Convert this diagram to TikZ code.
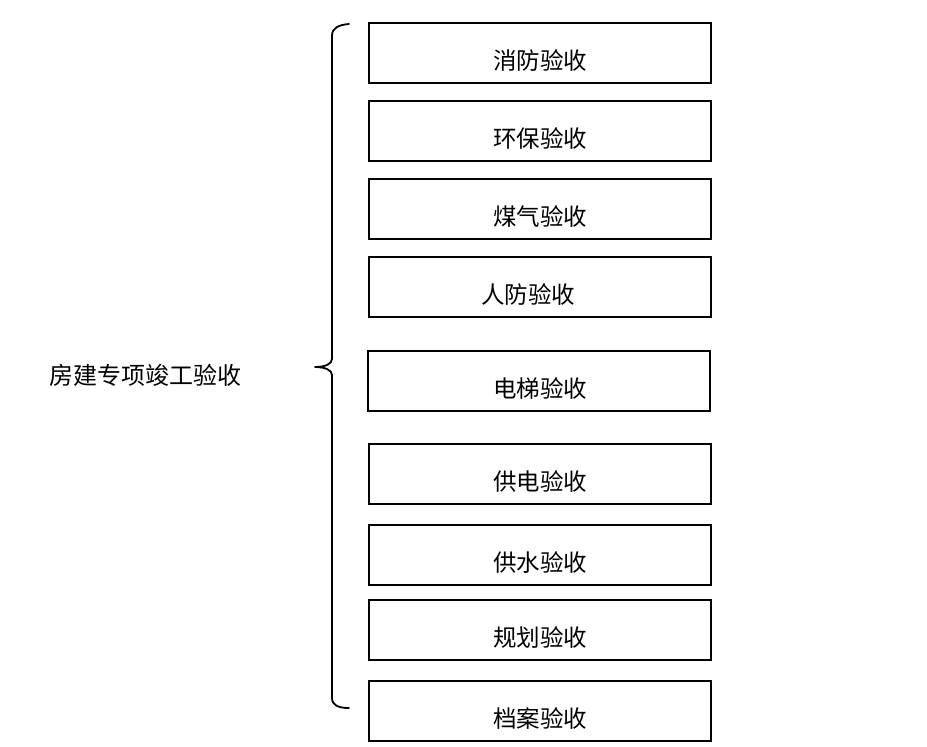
\documentclass[tikz,border=0pt]{standalone}
\usepackage{fontspec}
\newfontfamily\cjk{Noto Sans CJK SC}
\begin{document}
\begin{tikzpicture}[x=1pt,y=-1pt,
  itembox/.style={draw=black,line width=1.8pt,minimum width=342pt,minimum height=60pt,anchor=north west,inner sep=0pt},
  itemtext/.style={font=\cjk\fontsize{23.5}{23.5}\selectfont,anchor=center,inner sep=0pt},
  bracestyle/.style={draw=black,line width=1.8pt,line cap=round,line join=round}]
\useasboundingbox (0,0) rectangle (927,747);
\fill[white] (0,0) rectangle (927,747);
% boxes
\node[itembox] (b1) at (368,22) {};
\node[itembox] (b2) at (368,100) {};
\node[itembox] (b3) at (368,178) {};
\node[itembox] (b4) at (368,256) {};
\node[itembox] (b5) at (367,350) {};
\node[itembox] (b6) at (368,443) {};
\node[itembox] (b7) at (368,524) {};
\node[itembox] (b8) at (368,599) {};
\node[itembox] (b9) at (368,680) {};
% texts
\node[itemtext] (t1) at (540,60) {消防验收};
\node[itemtext] (t2) at (540,138) {环保验收};
\node[itemtext] (t3) at (540,216) {煤气验收};
\node[itemtext] (t4) at (528,294) {人防验收};
\node[itemtext] (t5) at (540,388) {电梯验收};
\node[itemtext] (t6) at (540,481) {供电验收};
\node[itemtext] (t7) at (540,562) {供水验收};
\node[itemtext] (t8) at (540,637) {规划验收};
\node[itemtext] (t9) at (540,718) {档案验收};
% left label
\node[font=\cjk\fontsize{24}{24}\selectfont,inner sep=0pt] (main) at (145,375) {房建专项竣工验收};
% brace
\coordinate (btop) at (349,24);
\coordinate (bbot) at (349,708);
\coordinate (btip) at (315,367);
\draw[bracestyle] (btop) .. controls (338,25) and (332,28) .. (332,36)
  -- (332,359) .. controls (332,364) and (325,367) .. (btip)
  .. controls (325,367) and (332,370) .. (332,375)
  -- (332,698) .. controls (332,705) and (338,708) .. (bbot);
\end{tikzpicture}
\end{document}
